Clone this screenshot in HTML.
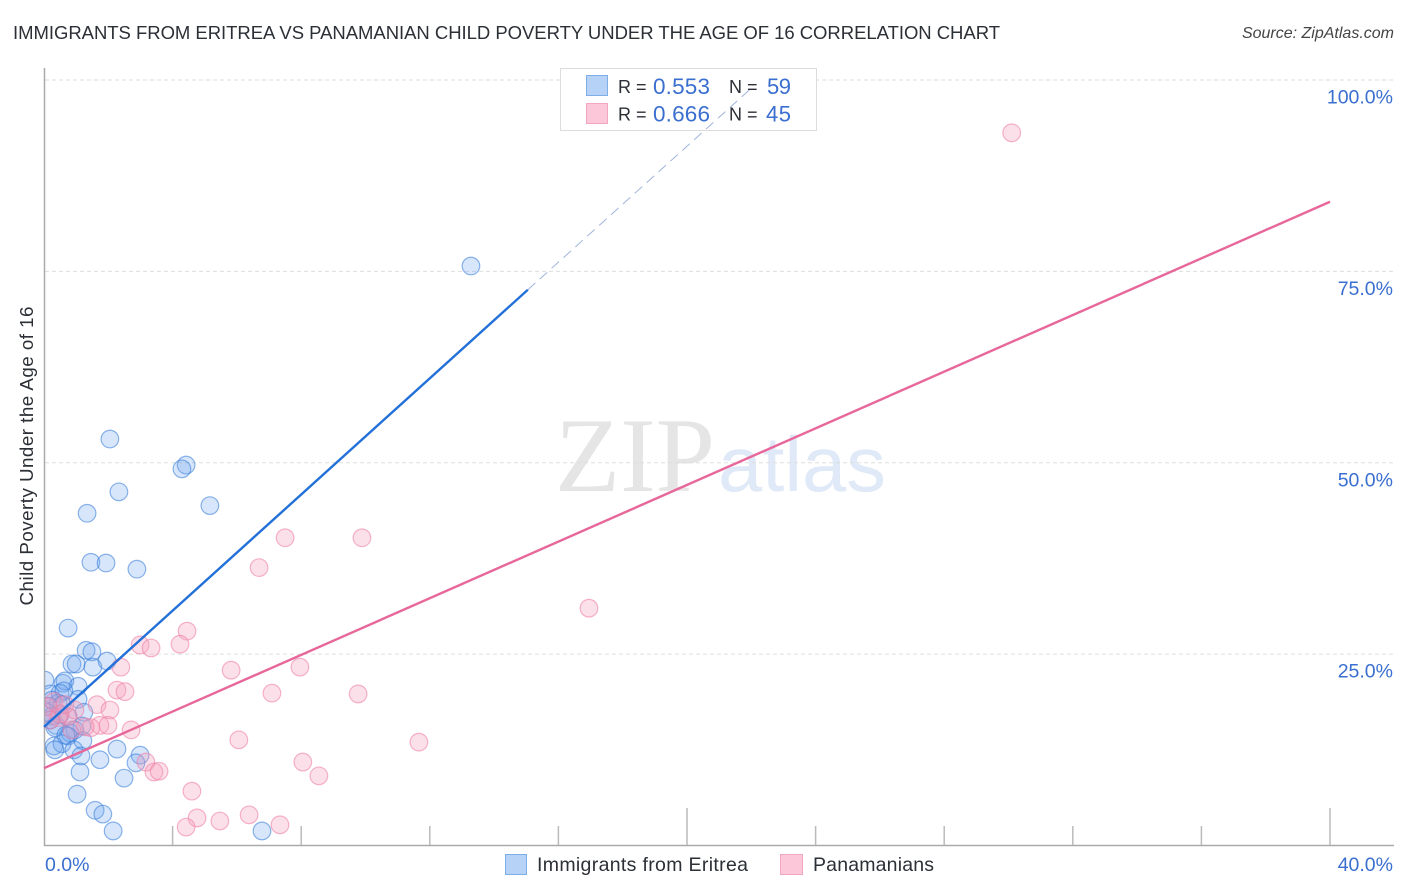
<!DOCTYPE html>
<html lang="en">
<head>
<meta charset="utf-8">
<title>Immigrants from Eritrea vs Panamanian Child Poverty Correlation Chart</title>
<style>
html,body{margin:0;padding:0;background:#fff;width:1406px;height:892px;overflow:hidden}
svg{display:block;font-family:"Liberation Sans",sans-serif}
</style>
</head>
<body>
<svg id="chart" width="1406" height="892" viewBox="0 0 1406 892" xmlns="http://www.w3.org/2000/svg">
  <defs><clipPath id="plot-clip"><rect x="45" y="68" width="1349" height="777"/></clipPath></defs>
  <text x="13" y="39" font-size="18.5" fill="#2b2f36" textLength="987" lengthAdjust="spacing">IMMIGRANTS FROM ERITREA VS PANAMANIAN CHILD POVERTY UNDER THE AGE OF 16 CORRELATION CHART</text>
  <text x="1394" y="38" font-size="16" font-style="italic" fill="#444" text-anchor="end">Source: ZipAtlas.com</text>

  <g>
    <text x="555" y="491" font-family="'Liberation Serif',serif" font-size="106" fill="#e5e5e5" textLength="160" lengthAdjust="spacingAndGlyphs">ZIP</text>
    <text x="718" y="491" font-size="78" fill="#dfe9f7" textLength="168" lengthAdjust="spacingAndGlyphs">atlas</text>
  </g>

  <g id="grid"></g>
  <g id="axes"></g>
  <g id="blue-points" clip-path="url(#plot-clip)"></g>
  <g id="pink-points" clip-path="url(#plot-clip)"></g>
  <g id="labels"></g>

  <text transform="translate(33,456) rotate(-90)" font-size="18.8" fill="#2b2f36" text-anchor="middle" textLength="299" lengthAdjust="spacing">Child Poverty Under the Age of 16</text>

  <g>
    <rect x="560.5" y="68.5" width="256" height="62" fill="#fff" stroke="#dcdcdc" stroke-width="1"/>
    <rect x="586.5" y="75.5" width="21" height="20" fill="#b6d2f6" stroke="#7eaee8"/>
    <rect x="586.5" y="103.5" width="21" height="20" fill="#fcc8d9" stroke="#f3a6bf"/>
    <g font-size="18">
      <text x="618" y="93" fill="#2b2f36">R =</text>
      <text x="653" y="94" fill="#3a6fd0" font-size="22.5" textLength="57" lengthAdjust="spacing">0.553</text>
      <text x="729" y="93" fill="#2b2f36">N =</text>
      <text x="767" y="94" fill="#3a6fd0" font-size="22" textLength="24" lengthAdjust="spacing">59</text>
      <text x="618" y="120.5" fill="#2b2f36">R =</text>
      <text x="653" y="121.5" fill="#3a6fd0" font-size="22.5" textLength="57" lengthAdjust="spacing">0.666</text>
      <text x="729" y="120.5" fill="#2b2f36">N =</text>
      <text x="766" y="121.5" fill="#3a6fd0" font-size="22" textLength="25" lengthAdjust="spacing">45</text>
    </g>
  </g>

  <g id="trends"></g>

  <g>
    <g>
      <rect x="505.5" y="854.5" width="21" height="20" fill="#b6d2f6" stroke="#7eaee8"/>
      <text x="537" y="871" font-size="19.5" fill="#2b2f36" textLength="211" lengthAdjust="spacing">Immigrants from Eritrea</text>
    </g>
    <g>
      <rect x="780.5" y="854.5" width="22" height="20" fill="#fcc8d9" stroke="#f3a6bf"/>
      <text x="813" y="871" font-size="19.5" fill="#2b2f36" textLength="121" lengthAdjust="spacing">Panamanians</text>
    </g>
  </g>
</svg>

<script>
// Chart data (percent values)
const yTicks = [25, 50, 75, 100];
const yTickLabels = ["25.0%", "50.0%", "75.0%", "100.0%"];
const xTicks = [0, 4, 8, 12, 16, 20, 24, 28, 32, 36, 40];
const xMajorTicks = [0, 20, 40];
const xEndTicks = [0, 40];
const xEndLabels = ["0.0%", "40.0%"];

const eritreaX = [2.05,4.42,4.29,2.33,5.16,1.34,1.46,1.93,2.89,13.28,0.75,1.31,1.49,0.87,1.0,1.52,1.96,0.03,0.59,0.65,1.06,0.19,0.5,0.62,0.25,1.06,0.44,0.56,0.12,1.24,0.25,0.75,0.37,1.18,0.81,0.96,0.75,0.31,0.56,0.34,0.93,1.21,1.15,2.27,2.99,2.86,1.74,1.12,2.49,1.03,1.59,1.83,2.15,6.78,0.19,0.5,0.09,0.34,0.68];
const eritreaY = [53.1,49.7,49.2,46.2,44.4,43.4,37.0,36.9,36.1,75.7,28.4,25.5,25.3,23.7,23.7,23.3,24.1,21.6,21.2,21.5,20.8,19.8,19.9,20.2,19.0,19.1,18.6,18.4,18.2,17.4,16.9,16.8,15.7,15.6,14.7,15.1,14.3,13.0,13.3,12.5,12.5,13.7,11.7,12.6,11.8,10.8,11.2,9.6,8.8,6.7,4.6,4.1,1.9,1.9,16.4,17.1,17.4,15.4,14.4];

const panamaX = [30.1,9.89,7.5,6.69,16.95,4.45,2.99,3.33,4.23,5.82,7.96,2.39,2.27,2.52,7.09,9.77,11.66,6.06,2.71,1.65,2.05,1.74,1.99,1.46,1.28,8.05,8.55,3.17,3.42,3.58,4.6,4.76,4.42,5.47,6.38,7.34,0.12,0.31,0.5,0.75,0.96,0.44,0.87,0.19,0.65];
const panamaY = [93.1,40.2,40.2,36.3,31.0,28.0,26.2,25.8,26.3,22.9,23.3,23.3,20.3,20.1,19.9,19.8,13.5,13.8,15.1,18.4,17.7,15.7,15.7,15.4,15.5,10.9,9.1,10.9,9.6,9.7,7.1,3.6,2.4,3.2,4.0,2.7,18.1,18.8,17.2,16.9,17.7,16.7,15.1,16.4,18.4];

const eritreaTrendX = [0, 15.05];
const eritreaTrendY = [15.5, 72.6];
const eritreaDashX = [15.05, 22.02];
const eritreaDashY = [72.6, 99.0];
const panamaTrendX = [0, 40];
const panamaTrendY = [10.1, 84.1];

// Axis functions
const X0 = 44, X40 = 1330, Y0 = 845.5, Y100 = 80;
function sx(v){ return X0 + (v / 40) * (X40 - X0); }
function sy(v){ return Y0 + (v / 100) * (Y100 - Y0); }

const NS = 'http://www.w3.org/2000/svg';
function make(tag, attrs, parent, text){
  const el = document.createElementNS(NS, tag);
  for (const k in attrs) el.setAttribute(k, attrs[k]);
  if (text !== undefined) el.textContent = text;
  parent.appendChild(el);
  return el;
}

const grid = document.getElementById('grid');
const axes = document.getElementById('axes');
const labels = document.getElementById('labels');
const trends = document.getElementById('trends');
const bluePts = document.getElementById('blue-points');
const pinkPts = document.getElementById('pink-points');

yTicks.forEach(function(t, i){
  const line = make('line', {x1: 45, x2: 1394, y1: sy(t), y2: sy(t), stroke: '#dedede', 'stroke-width': 1, 'stroke-dasharray': '4 3'}, grid);
  
  
  const lab = make('text', {x: 1393, y: sy(t) + 23.5, 'font-size': 19.5, fill: '#3a6fd0', 'text-anchor': 'end'}, labels, yTickLabels[i]);
  
  
});

const yAxis = make('line', {x1: 44.5, x2: 44.5, y1: 68, y2: 846, stroke: '#aaaaaa', 'stroke-width': 1.5}, axes);


const xAxis = make('line', {x1: 44, x2: 1394, y1: 845.5, y2: 845.5, stroke: '#aaaaaa', 'stroke-width': 1.5}, axes);



xTicks.forEach(function(t){
  if (t === 0) return;
  const top = xMajorTicks.indexOf(t) >= 0 ? 808 : 826;
  const tick = make('line', {x1: sx(t), x2: sx(t), y1: top, y2: 845, stroke: '#bbbbbb', 'stroke-width': 1.5}, axes);
  
  
});

xEndTicks.forEach(function(t, i){
  const attrs = t === 0
    ? {x: 45, y: 871, 'font-size': 19.5, fill: '#3a6fd0'}
    : {x: 1393, y: 871, 'font-size': 19.5, fill: '#3a6fd0', 'text-anchor': 'end'};
  const lab = make('text', attrs, labels, xEndLabels[i]);
  
  
});

eritreaX.forEach(function(v, i){
  const c = make('circle', {cx: sx(v), cy: sy(eritreaY[i]), r: 8.8, fill: 'rgba(110,165,240,0.28)', stroke: 'rgba(50,120,215,0.55)', 'stroke-width': 1.2}, bluePts);
  
  
});

panamaX.forEach(function(v, i){
  const c = make('circle', {cx: sx(v), cy: sy(panamaY[i]), r: 8.8, fill: 'rgba(247,160,188,0.32)', stroke: 'rgba(238,130,168,0.6)', 'stroke-width': 1.2}, pinkPts);
  
  
});

const blueLine = make('line', {x1: sx(eritreaTrendX[0]), y1: sy(eritreaTrendY[0]), x2: sx(eritreaTrendX[1]), y2: sy(eritreaTrendY[1]), stroke: '#2270d8', 'stroke-width': 2.4}, trends);


const blueDash = make('line', {x1: sx(eritreaDashX[0]), y1: sy(eritreaDashY[0]), x2: sx(eritreaDashX[1]), y2: sy(eritreaDashY[1]), stroke: '#9fb4dc', 'stroke-width': 1, 'stroke-dasharray': '10 6'}, trends);


const pinkLine = make('line', {x1: sx(panamaTrendX[0]), y1: sy(panamaTrendY[0]), x2: sx(panamaTrendX[1]), y2: sy(panamaTrendY[1]), stroke: '#e8679a', 'stroke-width': 2.4}, trends);


</script>
</body>
</html>
